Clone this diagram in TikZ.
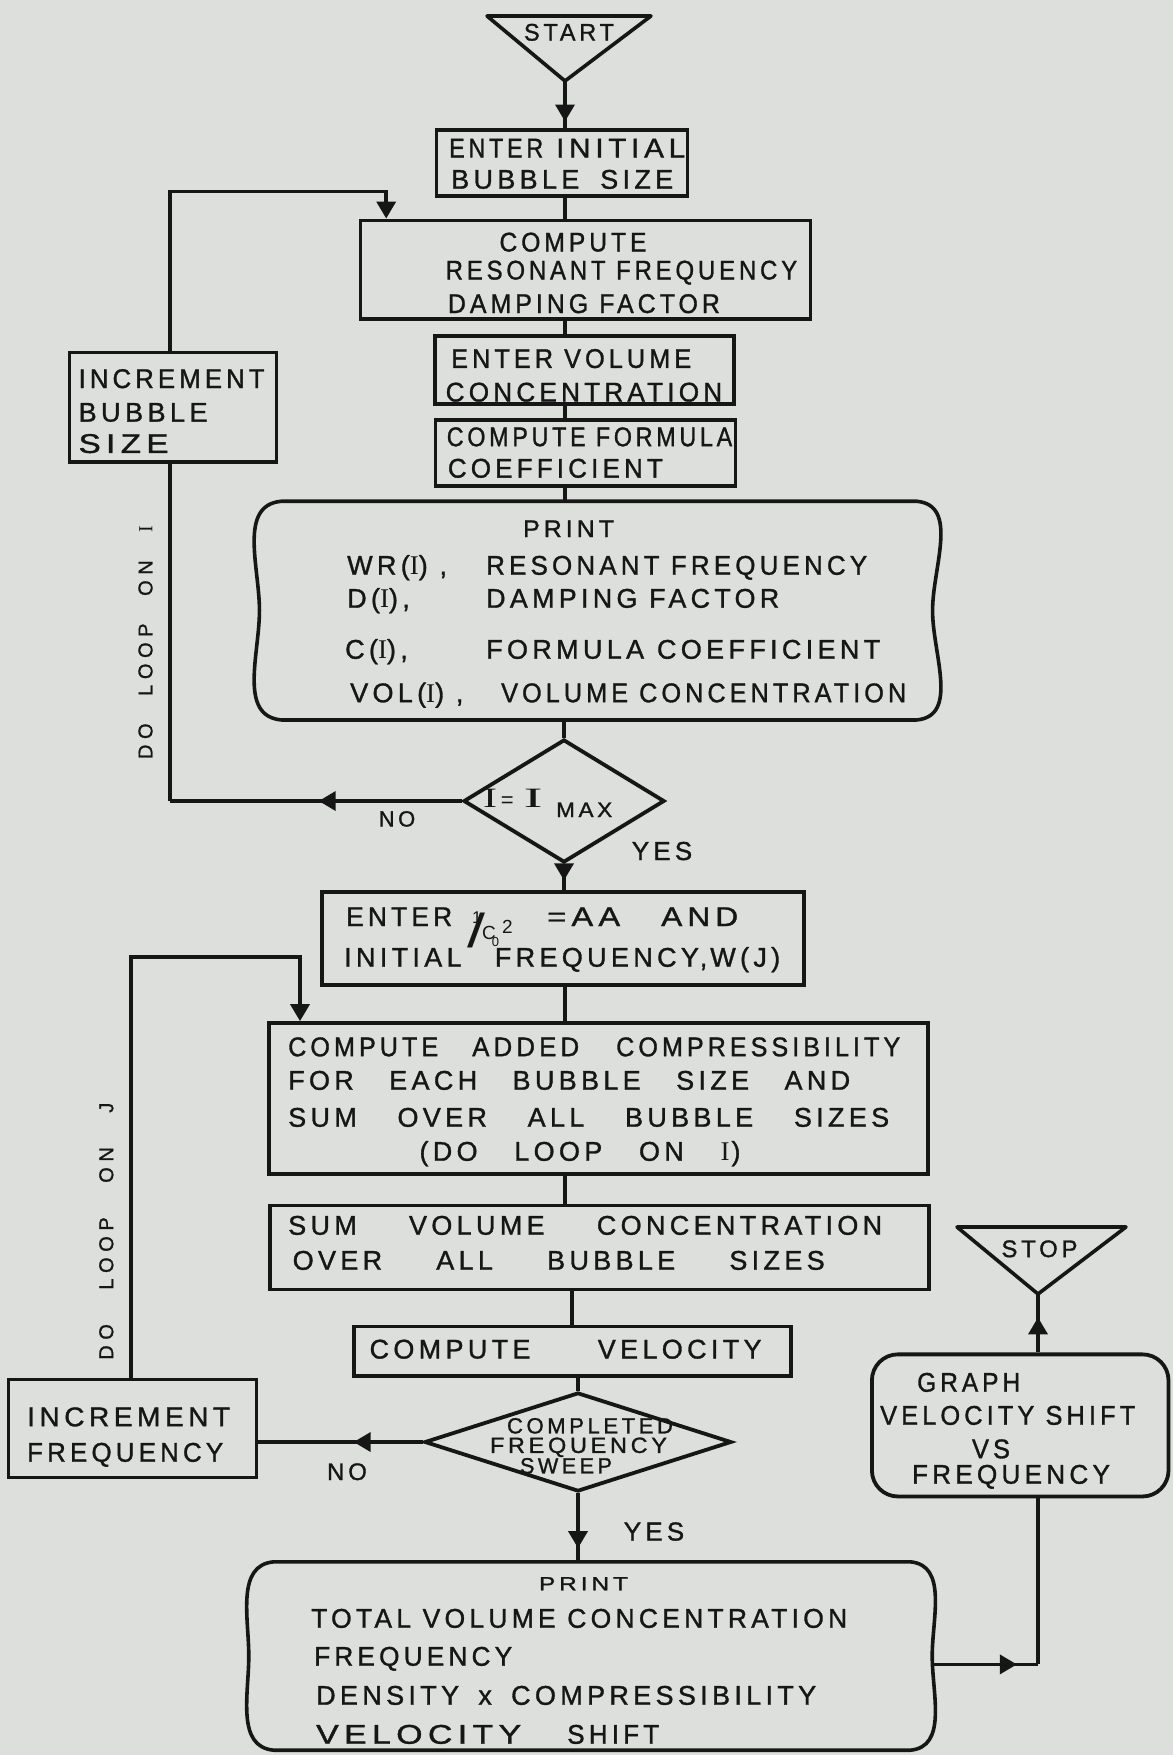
\documentclass[tikz,border=0pt]{standalone}
\usepackage{fontspec}
\usepackage{graphicx}
\setmainfont{Liberation Sans}[LetterSpace=16,FakeBold=1.2]
\newfontfamily\wideff{Liberation Sans}[LetterSpace=28,FakeBold=1.2]
\newfontfamily\plainff{Liberation Sans}[FakeBold=1.2]
\newfontfamily\thinff{Liberation Sans}
\newfontfamily\serifff{Liberation Serif}
\usetikzlibrary{shapes.geometric,arrows.meta,decorations.markings}
\definecolor{paper}{RGB}{220,223,220}
\definecolor{ink}{RGB}{22,22,22}
\newsavebox\fitbox
\newcommand\FitW[2]{\sbox\fitbox{#2}\ifdim\wd\fitbox>#1\relax\resizebox{#1}{\height}{\usebox\fitbox}\else\makebox[#1][s]{#2}\fi}
\newcommand\SW[2]{\resizebox{#1}{\height}{#2}}
\newcommand\II{{\serifff I}}
\tikzset{
  ln/.style={draw=ink, line width=3.6pt},
  box/.style={draw=ink, line width=3.8pt, rectangle, inner sep=0pt},
  ghost/.style={draw=none, rectangle, inner sep=0pt},
  txt/.style={anchor=base west, inner sep=0pt, text=ink, font=\fontsize{27}{30}\selectfont},
  ctxt/.style={anchor=base, inner sep=0pt, text=ink, font=\fontsize{27}{30}\selectfont},
  lbl/.style={anchor=base, inner sep=0pt, text=ink, font=\fontsize{24}{26}\selectfont},
  dtxt/.style={anchor=base, inner sep=0pt, text=ink, font=\fontsize{22}{24}\selectfont},
  tip/.style={-{Triangle[length=17pt,width=19pt]}},
  marr/.style={postaction={decorate,decoration={markings,mark=at position #1 with {\arrow{Triangle[length=17pt,width=19pt]}}}}}
}
\begin{document}
\begin{tikzpicture}[x=1pt,y=-1pt]
\fill[paper] (0,0) rectangle (1173,1755);
\useasboundingbox (0,0) rectangle (1173,1755);
\coordinate (col) at (565,0);
\coordinate (col2) at (572,0);

% START
\coordinate (stA) at (565,81);
\draw[ln, line join=round] (487,16) -- (651,16) -- (stA) -- cycle;
\node[lbl] (start) at (569,40.6) {\SW{90pt}{START}};

% box 1
\node[box, minimum width=251pt, minimum height=66pt] (b1) at (562,163) {};
\node[txt] (b1a) at (449,157.4) {\SW{94pt}{ENTER}\hspace{13pt}\SW{129pt}{INITIAL}};
\node[txt] (b1b) at (451,188.7) {\FitW{222pt}{BUBBLE SIZE}};

% box 2
\node[box, minimum width=450pt, minimum height=98.5pt] (b2) at (585.4,269.7) {};
\node[ctxt] (b2a) at (573,251.5) {\SW{147pt}{COMPUTE}};
\node[txt] (b2b) at (445.5,279.5) {\FitW{351.5pt}{RESONANT FREQUENCY}};
\node[txt] (b2c) at (447.7,313) {\FitW{272pt}{DAMPING FACTOR}};

% box 3
\node[box, minimum width=299pt, minimum height=68.3pt] (b3) at (584.8,369.9) {};
\node[txt] (b3a) at (451,367.9) {\FitW{240pt}{ENTER VOLUME}};
\node[txt] (b3b) at (445.5,401.5) {\SW{276.5pt}{CONCENTRATION}};

% box 4
\node[box, minimum width=300pt, minimum height=66pt] (b4) at (585.4,452.7) {};
\node[txt] (b4a) at (446.6,446.2) {\FitW{285.4pt}{COMPUTE FORMULA}};
\node[txt] (b4b) at (447.7,477.6) {\SW{215pt}{COEFFICIENT}};

% print 1
\node[ghost, minimum width=672.7pt, minimum height=218.3pt] (p1) at (596,610.6) {};
\draw[ln, line cap=round, line join=round]
  ([xshift=22pt]p1.north west) -- ([xshift=-16pt]p1.north east)
  to[out=-5,in=90] (p1.east) to[out=-90,in=5] ([xshift=-16pt]p1.south east)
  -- ([xshift=22pt]p1.south west) to[out=175,in=-90] (p1.west)
  to[out=90,in=185] ([xshift=22pt]p1.north west);
\node[lbl] (p1h) at (568.6,537) {\SW{91pt}{PRINT}};
\node[txt] (p1a) at (347,574.7) {\makebox[139pt][l]{WR(\II) ,}\FitW{381pt}{RESONANT FREQUENCY}};
\node[txt] (p1b) at (347,607.7) {\makebox[139pt][l]{D(\II),}\FitW{293pt}{DAMPING FACTOR}};
\node[txt] (p1c) at (345,658.7) {\makebox[141pt][l]{C(\II),}\FitW{394pt}{FORMULA COEFFICIENT}};
\node[txt] (p1d) at (350,702.2) {\makebox[151pt][l]{VOL(\II) ,}\FitW{405pt}{VOLUME CONCENTRATION}};

% decision 1
\node[diamond, draw=ink, line width=3.8pt, inner sep=0pt, minimum width=201pt, minimum height=123pt] (d1) at (564,801) {};
\node[anchor=base west, inner sep=0pt, text=ink, font=\fontsize{28}{30}\selectfont] (d1t) at (483,807) {\makebox[14pt]{\scalebox{1.5}[1]{\II}}\kern4pt\makebox[12pt]{\thinff\fontsize{22}{22}\selectfont=}\kern9pt\makebox[22pt]{\scalebox{2}[1]{\II}}\kern12pt\raisebox{-10pt}{\fontsize{21}{21}\selectfont\SW{56pt}{MAX}}};
\node[lbl, font=\fontsize{22}{24}\selectfont] (no1) at (397,826.5) {NO};
\node[lbl, font=\fontsize{26}{28}\selectfont] (yes1) at (662,860) {YES};

% increment bubble size
\node[box, minimum width=207pt, minimum height=109.7pt] (inc1) at (173,407.4) {};
\node[txt] (inc1a) at (78.4,388) {\SW{186pt}{INCREMENT}};
\node[txt] (inc1b) at (78.4,421.6) {\SW{129pt}{BUBBLE}};
\node[txt] (inc1c) at (78.4,452.9) {\SW{90pt}{SIZE}};
\node[rotate=90, inner sep=0pt, text=ink, font=\wideff\fontsize{20}{22}\selectfont] (loopI) at (145.5,642.5) {\FitW{233pt}{DO LOOP ON \II}};

% box 5
\node[box, minimum width=481.3pt, minimum height=92.9pt] (b5) at (563,938.5) {};
\node[txt] (b5e) at (346,926) {\SW{106pt}{ENTER}};
\node[anchor=base west, inner sep=0pt, text=ink, font=\thinff] (b5f) at (467,947) {\rlap{\kern5pt\raisebox{24pt}{\fontsize{17}{17}\selectfont 1}}\scalebox{1.9}[1.4]{\fontsize{34}{34}\selectfont /}\kern-3pt\raisebox{8pt}{\fontsize{19}{19}\selectfont C}\kern-4pt\raisebox{1pt}{\fontsize{13}{13}\selectfont 0}\kern3pt\raisebox{14pt}{\fontsize{19}{19}\selectfont 2}};
\node[txt] (b5aa) at (547,926) {\SW{73pt}{=AA}};
\node[txt] (b5and) at (661,926) {\SW{77pt}{AND}};
\node[txt] (b5b) at (344,966.7) {\FitW{436pt}{INITIAL FREQUENCY,\kern3pt W(J)}};

% box 6
\node[box, minimum width=659.3pt, minimum height=151.1pt] (b6) at (598.3,1098.6) {};
\node[txt] (b6a) at (288,1056.2) {\SW{150pt}{COMPUTE}\hspace{34pt}\SW{107pt}{ADDED}\hspace{37pt}\SW{284pt}{COMPRESSIBILITY}};
\node[txt] (b6b) at (288,1089.7) {\FitW{562pt}{FOR EACH BUBBLE SIZE AND}};
\node[txt] (b6c) at (288,1126.7) {\FitW{601pt}{SUM OVER ALL BUBBLE SIZES}};
\node[ctxt] (b6d) at (580,1160.7) {\FitW{321pt}{(DO LOOP ON \II\kern2pt)}};

% box 7
\node[box, minimum width=659.3pt, minimum height=83.9pt] (b7) at (599.4,1247.5) {};
\node[txt] (b7a) at (288,1234.7) {\FitW{594pt}{SUM VOLUME CONCENTRATION}};
\node[txt] (b7b) at (292.5,1269.7) {\FitW{532pt}{OVER ALL BUBBLE SIZES}};

% box 8
\node[box, minimum width=437.6pt, minimum height=49.2pt] (b8) at (572.5,1351) {};
\node[txt] (b8a) at (369.4,1358.5) {\FitW{392pt}{COMPUTE VELOCITY}};

% decision 2
\node[diamond, draw=ink, line width=3.8pt, inner sep=0pt, minimum width=307pt, minimum height=99pt] (d2) at (578,1442) {};
\node[dtxt] (d2a) at (590,1433.4) {\SW{166pt}{COMPLETED}};
\node[dtxt] (d2b) at (578.5,1452.9) {\SW{177pt}{FREQUENCY}};
\node[dtxt] (d2c) at (566,1473.4) {\SW{92pt}{SWEEP}};
\node[lbl] (no2) at (347,1480) {NO};
\node[lbl, font=\fontsize{26}{28}\selectfont] (yes2) at (654,1540.5) {YES};

% increment frequency
\node[box, minimum width=248pt, minimum height=98pt] (inc2) at (132.5,1428.5) {};
\node[txt] (inc2a) at (27,1426.2) {\SW{203pt}{INCREMENT}};
\node[txt] (inc2b) at (27,1461.7) {\SW{196pt}{FREQUENCY}};
\node[rotate=90, inner sep=0pt, text=ink, font=\wideff\fontsize{20}{22}\selectfont] (loopJ) at (106.3,1231.2) {\FitW{257pt}{DO LOOP ON J}};

% print 2
\node[ghost, minimum width=683pt, minimum height=188pt] (p2) at (590.5,1656) {};
\draw[ln, line cap=round, line join=round]
  ([xshift=25pt]p2.north west) -- ([xshift=-22pt]p2.north east)
  to[out=-5,in=90] (p2.east) to[out=-90,in=5] ([xshift=-22pt]p2.south east)
  -- ([xshift=25pt]p2.south west) to[out=175,in=-90] (p2.west)
  to[out=90,in=185] ([xshift=25pt]p2.north west);
\node[anchor=base, inner sep=0pt, text=ink, font=\fontsize{19}{21}\selectfont] (p2h) at (583.5,1590.3) {\SW{89pt}{PRINT}};
\node[txt] (p2a) at (311,1627.7) {\FitW{536pt}{TOTAL VOLUME CONCENTRATION}};
\node[txt] (p2b) at (314,1665.7) {\SW{198pt}{FREQUENCY}};
\node[txt] (p2c) at (316,1704.7) {\FitW{500pt}{DENSITY x COMPRESSIBILITY}};
\node[txt] (p2d) at (316,1743.7) {\SW{205pt}{VELOCITY}\hspace{46pt}\SW{92pt}{SHIFT}};

% graph
\node[box, rounded corners=26pt, minimum width=296.6pt, minimum height=142.1pt] (g) at (1020.2,1425.4) {};
\node[txt] (ga) at (917,1391.7) {\SW{103pt}{GRAPH}};
\node[txt] (gb) at (880,1424.7) {\FitW{255pt}{VELOCITY SHIFT}};
\node[ctxt] (gc) at (991,1458.2) {\SW{38pt}{VS}};
\node[ctxt] (gd) at (1011,1483.7) {\SW{198pt}{FREQUENCY}};

% STOP
\coordinate (spA) at (1038,1294);
\draw[ln, line join=round] (957,1227) -- (1126,1227) -- (spA) -- cycle;
\node[lbl] (stop) at (1039.5,1257.1) {\SW{76pt}{STOP}};

% connectors
\draw[ln, marr=0.86] (stA) -- (stA |- b1.north);
\draw[ln] (col |- b1.south) -- (col |- b2.north);
\draw[ln] (col |- b2.south) -- (col |- b3.north);
\draw[ln] (col |- b3.south) -- (col |- b4.north);
\draw[ln] (col |- b4.south) -- (col |- p1.north);
\draw[ln] (d1.north |- p1.south) -- (d1.north);
\coordinate (lI) at (170,191.4);
\coordinate (lIr) at (386.2,191.4);
\draw[ln, tip] (lI |- inc1.north) -- (lI) -- (lIr) -- (lIr |- b2.north);
\draw[ln, marr=0.49] (d1.west) -- (d1.west -| lI);
\draw[ln] (d1.west -| lI) -- (lI |- inc1.south);
\draw[ln, marr=0.62] (d1.south) -- (d1.south |- b5.north);
\draw[ln] (col |- b5.south) -- (col |- b6.north);
\coordinate (lJ) at (131,957);
\coordinate (lJr) at (300,957);
\draw[ln, tip] (lJ |- inc2.north) -- (lJ) -- (lJr) -- (lJr |- b6.north);
\draw[ln] (col |- b6.south) -- (col |- b7.north);
\draw[ln] (col2 |- b7.south) -- (col2 |- b8.north);
\draw[ln] (d2.north |- b8.south) -- (d2.north);
\draw[ln, marr=0.42] (d2.west) -- (d2.west -| inc2.east);
\draw[ln, marr=0.8] (d2.south) -- (d2.south |- p2.north);
\coordinate (gq) at (1038,1664.4);
\draw[ln, marr=0.8] (p2.east |- gq) -- (gq);
\draw[ln] (gq) -- (gq |- g.south);
\draw[ln, marr=0.6] (spA |- g.north) -- (spA);
\end{tikzpicture}
\end{document}
